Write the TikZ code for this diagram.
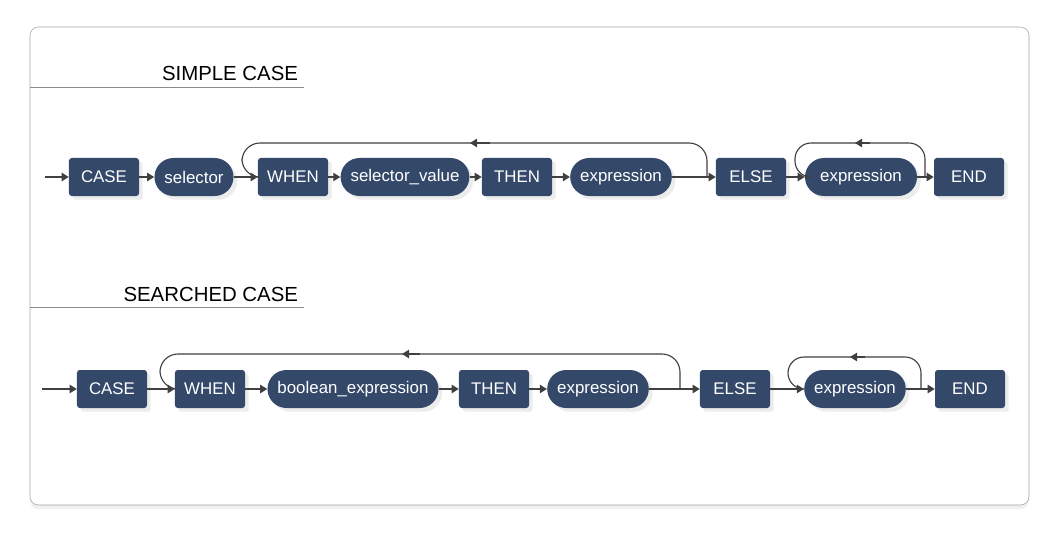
\documentclass[tikz,border=0pt]{standalone}
\usepackage{fontspec}
\setmainfont{Liberation Sans}
\usetikzlibrary{arrows.meta,shadows}
\definecolor{boxblue}{HTML}{34496A}
\tikzset{
  kw/.style={draw=none,fill=boxblue,text=white,rounded corners=2pt,minimum height=0.95cm,
    minimum width=1.75cm,font=\fontsize{12}{14}\selectfont,drop shadow={opacity=0.15}},
  term/.style={kw,rounded corners=0.475cm,inner xsep=0.25cm},
  flow/.style={-{Triangle[length=5pt,width=6pt]},thick,black!75},
  loop/.style={thick,black!75,rounded corners=0.45cm},
  back/.style={-{Triangle[length=5pt,width=6pt]},thick,black!75},
}
\begin{document}
\begin{tikzpicture}[x=0.025cm,y=-0.025cm]
  \useasboundingbox (0,0) rectangle (1060,540);
  % frame
  \draw[black!35,fill=white,rounded corners=6pt,drop shadow={opacity=0.12,shadow xshift=0,shadow yshift=-3pt}]
    (30,27) rectangle (1029,505);

  % headings
  \node[anchor=base east,font=\fontsize{14.5}{16}\selectfont] (h1) at (303,80) {SIMPLE CASE};
  \draw[black!45] (30,87) -- (304,87);
  \node[anchor=base east,font=\fontsize{14.5}{16}\selectfont] (h2) at (303,301) {SEARCHED CASE};
  \draw[black!45] (30,307) -- (304,307);

  % simple case
  \coordinate (a0) at (45,177);
  \node[kw]   (a1) at (104,177) {CASE};
  \node[term] (a2) at (194,177) {selector};
  \node[kw]   (a3) at (293,177) {WHEN};
  \node[term] (a4) at (405,177) {selector\_value};
  \node[kw]   (a5) at (517,177) {THEN};
  \node[term] (a6) at (621,177) {expression};
  \node[kw]   (a7) at (751,177) {ELSE};
  \node[term,minimum width=2.8cm] (a8) at (861,177) {expression};
  \node[kw]   (a9) at (969,177) {END};
  \draw[flow] (a0) -- (a1);
  \foreach \i/\j in {1/2,2/3,3/4,4/5,5/6,6/7,7/8,8/9}
    \draw[flow] (a\i) -- (a\j);
  \coordinate (l1) at (707,177);
  \coordinate (l2) at (242,177);
  \draw[loop] (l1) -- (707,143) -- (242,143) -- (l2) -- (a3.west);
  \draw[back] (490,143) -- (470,143);
  \coordinate (l3) at (925,177);
  \coordinate (l4) at (795,177);
  \draw[loop,rounded corners=0.4cm] (l3) -- (925,143) -- (795,143) -- (l4) -- (a8.west);
  \draw[back] (870,143) -- (855,143);

  % searched case
  \coordinate (b0) at (42,389);
  \node[kw]   (b1) at (112,389) {CASE};
  \node[kw]   (b2) at (210,389) {WHEN};
  \node[term] (b3) at (353,389) {boolean\_expression};
  \node[kw]   (b4) at (494,389) {THEN};
  \node[term] (b5) at (598,389) {expression};
  \node[kw]   (b6) at (735,389) {ELSE};
  \node[term] (b7) at (855,389) {expression};
  \node[kw]   (b8) at (970,389) {END};
  \draw[flow] (b0) -- (b1);
  \foreach \i/\j in {1/2,2/3,3/4,4/5,5/6,6/7,7/8}
    \draw[flow] (b\i) -- (b\j);
  \coordinate (m1) at (680,389);
  \coordinate (m2) at (160,389);
  \draw[loop] (m1) -- (680,354) -- (160,354) -- (m2) -- (b2.west);
  \draw[back] (420,354) -- (402,354);
  \coordinate (m3) at (921,389);
  \coordinate (m4) at (788,389);
  \draw[loop,rounded corners=0.4cm] (m3) -- (921,357) -- (788,357) -- (m4) -- (b7.west);
  \draw[back] (865,357) -- (850,357);
\end{tikzpicture}
\end{document}
